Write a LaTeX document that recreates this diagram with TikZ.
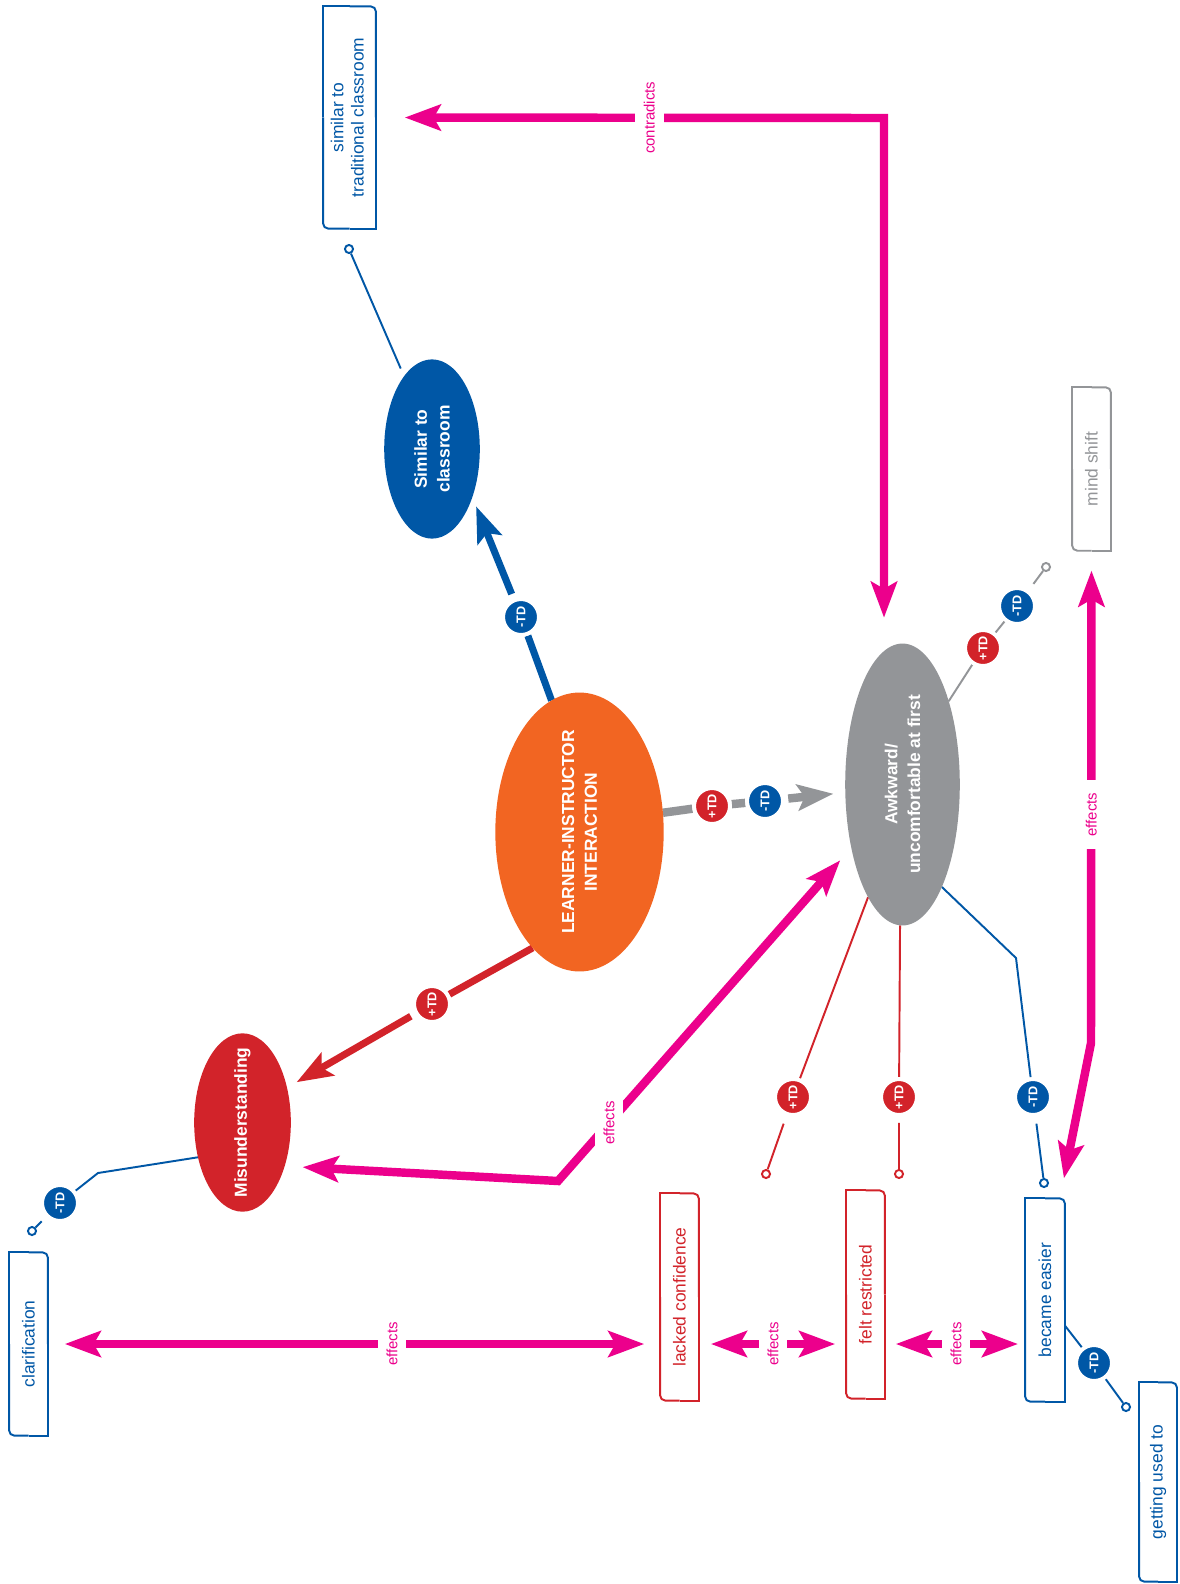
\documentclass[tikz,border=0pt]{standalone}
\usepackage{fontspec}
\setmainfont{Liberation Sans}
\usetikzlibrary{arrows.meta,shapes.geometric}

\definecolor{tdblue}{RGB}{0,87,166}
\definecolor{tdred}{RGB}{210,35,42}
\definecolor{tdorange}{RGB}{242,101,34}
\definecolor{tdgray}{RGB}{147,149,152}
\definecolor{tdpink}{RGB}{236,0,140}

\pgfdeclarelayer{paper}
\pgfdeclarelayer{edges}
\pgfsetlayers{paper,edges,main}

% code box outline: rounded top-right and bottom-left corners, square elsewhere
\newcommand\cornerframe[2]{%
  \draw[#2, line width=1.1pt, rounded corners=3pt] (#1.north) -| (#1.east);
  \draw[#2, line width=1.1pt] (#1.east) |- (#1.south);
  \draw[#2, line width=1.1pt, rounded corners=3pt] (#1.south) -| (#1.west);
  \draw[#2, line width=1.1pt] (#1.west) |- (#1.north);}

\tikzset{
  concept/.style={ellipse, fill=#1, inner sep=0pt, outer sep=0pt},
  concepttext/.style={rotate=90, align=center, text=white, inner sep=0pt,
    font=\fontsize{9.9}{13}\selectfont\bfseries},
  codebox/.style={rectangle, inner sep=0pt, outer sep=0pt, text=#1,
    font=\fontsize{9.9}{11.5}\selectfont},
  badge/.style={circle, fill=#1, draw=white, line width=2.2pt, minimum size=20.4pt,
    inner sep=0pt, text=white, font=\fontsize{7.2}{8}\selectfont\bfseries, rotate=90},
  stubdot/.style={circle, draw=#1, fill=white, line width=1.1pt, minimum size=4.6pt, inner sep=0pt},
  bigtip/.tip={Stealth[length=20.4pt,width=14.7pt,inset=4pt]},
  heavyline/.style={draw=#1, line width=4pt, -bigtip},
  fineline/.style={draw=#1, line width=1.1pt},
  relation/.style={draw=tdpink, line width=4.8pt, bigtip-bigtip},
  lab/.style={rotate=90, fill=white, text=tdpink, inner xsep=7pt, inner ysep=5pt,
    font=\fontsize{8.5}{9}\selectfont},
}

\begin{document}
\begin{tikzpicture}[x=0.2mm, y=-0.2mm]
\begin{pgfonlayer}{paper}
  \fill[white] (0,0) rectangle (1179,1584);
\end{pgfonlayer}
\useasboundingbox (0,0) rectangle (1179,1584);

% ---- concepts (ellipses)
\node[concept=tdorange, minimum width=95.8pt, minimum height=158.7pt] (li) at (579.5,832) {};
\node[concepttext] (li-t) at (li) {LEARNER-INSTRUCTOR\\INTERACTION};
\node[concept=tdblue, minimum width=54.4pt, minimum height=102pt] (sim) at (432,449) {};
\node[concepttext] (sim-t) at (sim) {Similar to\\classroom};
\node[concept=tdgray, minimum width=65.2pt, minimum height=160.4pt] (awk) at (902.5,784.5) {};
\node[concepttext] (awk-t) at (awk) {Awkward/\\uncomfortable at first};
\node[concept=tdred, minimum width=55pt, minimum height=101.5pt] (mis) at (242.5,1122.5) {};
\node[concepttext] (mis-t) at (mis) {Misunderstanding};

% ---- codes (boxes)
\node[codebox=tdblue, minimum width=30.1pt, minimum height=126.5pt] (simc) at (349.5,117.5)
  {\rotatebox{90}{\begin{tabular}{@{}c@{}}similar to\\traditional classroom\end{tabular}}};
\node[codebox=tdgray, minimum width=22.1pt, minimum height=93pt] (ms) at (1091.5,469)
  {\rotatebox{90}{mind shift}};
\node[codebox=tdblue, minimum width=22.1pt, minimum height=104.3pt] (clar) at (28.5,1344)
  {\rotatebox{90}{clarification}};
\node[codebox=tdred, minimum width=22.1pt, minimum height=117.9pt] (lc) at (679.5,1297)
  {\rotatebox{90}{lacked confidence}};
\node[codebox=tdred, minimum width=22.1pt, minimum height=118.5pt] (fr) at (865.5,1294.5)
  {\rotatebox{90}{felt restricted}};
\node[codebox=tdblue, minimum width=22.7pt, minimum height=115.7pt] (be) at (1045,1300)
  {\rotatebox{90}{became easier}};
\node[codebox=tdblue, minimum width=21.6pt, minimum height=113.4pt] (gu) at (1158,1482)
  {\rotatebox{90}{getting used to}};
\cornerframe{simc}{tdblue}
\cornerframe{ms}{tdgray}
\cornerframe{clar}{tdblue}
\cornerframe{lc}{tdred}
\cornerframe{fr}{tdred}
\cornerframe{be}{tdblue}
\cornerframe{gu}{tdblue}

% ---- TD badges
\node[badge=tdblue] (b1) at (521,617) {-TD};
\node[badge=tdred]  (b2) at (712,806) {+TD};
\node[badge=tdblue] (b3) at (765,801) {-TD};
\node[badge=tdred]  (b4) at (432,1004) {+TD};
\node[badge=tdblue] (b5) at (60,1203) {-TD};
\node[badge=tdred]  (b6) at (983,648) {+TD};
\node[badge=tdblue] (b7) at (1017,606) {-TD};
\node[badge=tdred]  (b8) at (793,1097) {+TD};
\node[badge=tdred]  (b9) at (899,1097) {+TD};
\node[badge=tdblue] (b10) at (1033,1097) {-TD};
\node[badge=tdblue] (b11) at (1094,1363) {-TD};

% ---- open line ends
\node[stubdot=tdblue] (e1) at (349,249) {};
\node[stubdot=tdblue] (e2) at (32,1231) {};
\node[stubdot=tdgray] (e3) at (1046,567) {};
\node[stubdot=tdred]  (e4) at (766,1174) {};
\node[stubdot=tdred]  (e5) at (899,1174) {};
\node[stubdot=tdblue] (e6) at (1044,1183) {};
\node[stubdot=tdblue] (e7) at (1126,1407) {};

% ---- bends
\coordinate (mbend) at (98,1173);
\coordinate (abend) at (1016,958);
\coordinate (cc) at (884,118);
\coordinate (pbend) at (558,1181);
\coordinate (mbend2) at (1091,1043);

\begin{pgfonlayer}{edges}
  % strong links from the central concept
  \draw[heavyline=tdblue, shorten <=2.8pt, shorten >=5.7pt] (li.102) -- (b1) -- (sim.-50);
  \draw[heavyline=tdgray, line width=4.8pt, shorten <=2pt, shorten >=6.8pt]
    (li.13) -- (b2) -- (b3) -- (awk.-172);
  \draw[heavyline=tdred, shorten <=2.6pt, shorten >=6.3pt] (li.-112) -- (b4) -- (mis.38);

  % thin links to codes
  \draw[fineline=tdblue, shorten >=4.8pt] (e1) -- (sim.111);
  \draw[fineline=tdblue, shorten <=3.4pt] (mis.-142) -- (mbend) -- (b5) -- (e2);
  \draw[fineline=tdgray, shorten <=4.4pt] (awk.61) -- (b6) -- (b7) -- (e3);
  \draw[fineline=tdred, shorten <=4.8pt] (awk.-107) -- (b8) -- (e4);
  \draw[fineline=tdred, shorten <=3.4pt] (awk.-91) -- (b9) -- (e5);
  \draw[fineline=tdblue, shorten <=4pt] (awk.-69) -- (abend) -- (b10) -- (e6);
  \draw[fineline=tdblue] (be) -- (b11) -- (e7);

  % relations
  \draw[relation, shorten <=16.4pt, shorten >=14.7pt]
    (simc.east) -- node[lab, pos=.538] (lab1) {contradicts} (cc) -- (cc |- awk.north);
  \draw[relation, shorten <=10.2pt, shorten >=9.5pt]
    (mis.-46) -- (pbend) -- node[lab, pos=.174] (lab2) {effects} (awk.-129);
  \draw[relation, shorten <=9.6pt, shorten >=9pt]
    (clar.east) -- node[lab, pos=.562] (lab3) {effects} (lc.west |- clar.east);
  \draw[relation, shorten <=6.8pt, shorten >=6.2pt]
    (lc.east |- clar.east) -- node[lab, pos=.503] (lab4) {effects} (fr.west |- clar.east);
  \draw[relation, shorten <=6.2pt, shorten >=4pt]
    (fr.east |- clar.east) -- node[lab, pos=.507] (lab5) {effects} (be.west |- clar.east);
  \draw[relation, shorten <=11.3pt, shorten >=11.6pt]
    (ms.south) -- node[lab, pos=.536] (lab6) {effects} (mbend2) -- ([xshift=8.5pt]be.north);
\end{pgfonlayer}
\end{tikzpicture}
\end{document}
